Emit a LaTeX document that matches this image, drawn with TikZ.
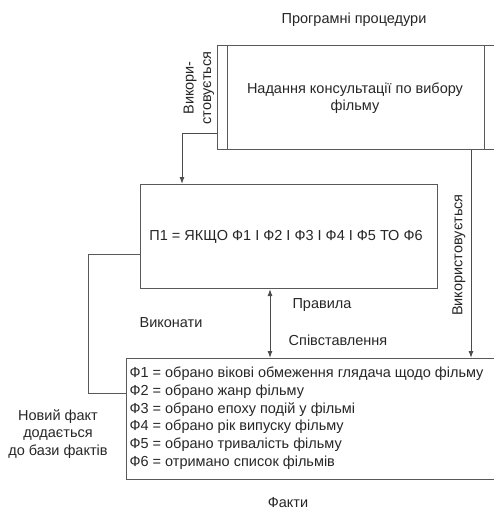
\documentclass[tikz,border=0pt]{standalone}
\usepackage{fontspec}
\setmainfont{Liberation Sans}
\usetikzlibrary{positioning,arrows.meta}

\begin{document}
\begin{tikzpicture}[x=1pt,y=-1pt,
  box/.style={draw=black!65,line width=1pt,rectangle,inner sep=0pt},
  lbl/.style={font=\fontsize{14.5}{17.5}\selectfont,text=black!85},
  arr/.style={draw=black!70,line width=1pt,-{Latex[length=7pt,width=5pt]}},
  wire/.style={draw=black!65,line width=1pt}]
\useasboundingbox (0,0) rectangle (494,511);

% program procedure box
\node[box,minimum width=281pt,minimum height=104pt,anchor=north west] (proc) at (217,45) {};
\draw[wire] (227,45) -- (227,149);
\draw[wire] (484,45) -- (484,149);
\node[lbl,align=center,anchor=center] (proctext) at (355,98) {Надання консультації по вибору\\фільму};
\node[lbl,anchor=center] (proctitle) at (354,20) {Програмні процедури};

% rule box
\node[box,minimum width=297pt,minimum height=104pt,anchor=north west] (rule) at (140,184) {};
\node[lbl,anchor=center] (ruletext) at (286,237) {П1 = ЯКЩО Ф1 І Ф2 І Ф3 І Ф4 І Ф5 ТО Ф6};

% facts box
\node[box,minimum width=374pt,minimum height=121pt,anchor=north west] (facts) at (126,358) {};
\node[lbl,anchor=west] (f1) at (126,374) {Ф1 = обрано вікові обмеження глядача щодо фільму};
\node[lbl,anchor=west] (f2) at (126,392) {Ф2 = обрано жанр фільму};
\node[lbl,anchor=west] (f3) at (126,410) {Ф3 = обрано епоху подій у фільмі};
\node[lbl,anchor=west] (f4) at (126,427) {Ф4 = обрано рік випуску фільму};
\node[lbl,anchor=west] (f5) at (126,445) {Ф5 = обрано тривалість фільму};
\node[lbl,anchor=west] (f6) at (126,463) {Ф6 = отримано список фільмів};
\node[lbl,anchor=center] (factstitle) at (288,503) {Факти};

% labels
\node[lbl,rotate=90,align=center,anchor=center] (uses1) at (199,88) {Викори-\\стовується};
\node[lbl,rotate=90,anchor=center] (uses2) at (459,255) {Використовується};
\node[lbl,anchor=center] (rules) at (322,305) {Правила};
\node[lbl,anchor=center] (match) at (338,340) {Співставлення};
\node[lbl,anchor=center] (exec) at (171,323) {Виконати};
\node[lbl,align=center,anchor=center] (newfact) at (58,434) {Новий факт\\додається\\до бази фактів};

% connectors
\coordinate (procout) at (217,133);
\coordinate (ruleout) at (140,254);
\draw[arr] (procout) -| (rule.north -| 182,0);
\draw[wire] (ruleout) -| (88,393) -- (facts.west |- 0,393);
\draw[arr,{Latex[length=7pt,width=5pt]}-{Latex[length=7pt,width=5pt]}] (rule.south -| 270,0) -- (facts.north -| 270,0);
\draw[arr] (proc.south -| 471,0) -- (facts.north -| 471,0);

\end{tikzpicture}
\end{document}
